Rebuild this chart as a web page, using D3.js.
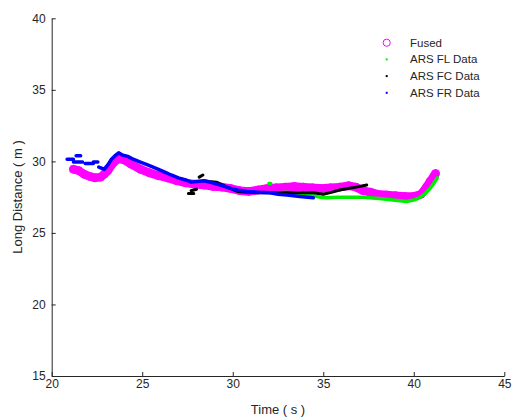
<!DOCTYPE html>
<html>
<head>
  <meta charset="utf-8">
  <script src="https://cdn.jsdelivr.net/npm/d3@7"></script>
  <style>
    body { margin: 0; background: #fff; }
    svg { font-family: "Liberation Sans", Arial, sans-serif; }
    .axis path, .axis line { stroke: #262626; }
    .axis text { fill: #262626; font-size: 12px; }
    .legend text { fill: #262626; font-size: 11.5px; }
  </style>
</head>
<body>
  <svg id="chart" width="514" height="418"></svg>
  <script>
    // Values: [time (s), long distance (m)], null = gap
    const fused = [
      [21.2, 29.45], [21.5, 29.35], [21.8, 29.1], [22.1, 28.95], [22.4, 28.85], [22.7, 28.9],
      [22.9, 29.1], [23.1, 29.35], [23.4, 29.9], [23.7, 30.2], [24.0, 30.1], [24.4, 29.8],
      [24.9, 29.45], [25.4, 29.2], [25.9, 29.0], [26.4, 28.85], [26.9, 28.65], [27.4, 28.5],
      [27.9, 28.4], [28.4, 28.35], [28.9, 28.25], [29.4, 28.2], [29.9, 28.1], [30.4, 27.95],
      [30.9, 27.9], [31.4, 28.0], [31.9, 28.1], [32.4, 28.15], [32.9, 28.2], [33.4, 28.25],
      [33.9, 28.2], [34.4, 28.15], [34.9, 28.1], [35.4, 28.15], [35.9, 28.2], [36.4, 28.3],
      [36.8, 28.2], [37.2, 27.95], [37.6, 27.85], [38.0, 27.7], [38.5, 27.65], [39.0, 27.6],
      [39.5, 27.55], [40.0, 27.55], [40.4, 27.7], [40.7, 28.2], [40.9, 28.6], [41.1, 28.95],
      [41.2, 29.15]
    ];

    const arsFL = [
      [32.0, 28.45], [32.1, 28.45], null,
      [32.8, 27.85], [33.3, 27.8], [33.9, 27.7], [34.45, 27.6], [34.8, 27.5], [35.2, 27.45],
      [35.8, 27.5], [36.3, 27.5], [37.2, 27.5], [38.1, 27.4], [38.85, 27.3], [39.6, 27.2],
      [40.0, 27.3], [40.3, 27.45], [40.6, 27.7], [40.9, 28.1], [41.1, 28.45], [41.3, 28.85]
    ];

    const arsFC = [
      [27.55, 27.75], [27.85, 27.75], null,
      [27.7, 27.95], [28.0, 28.05], null,
      [28.15, 28.9], [28.35, 29.05], null,
      [28.4, 28.65], [28.7, 28.6], [29.1, 28.55], [29.6, 28.25], [30.25, 27.9], [30.8, 27.85],
      [31.35, 27.8], [32.05, 27.8], [32.6, 27.8], [33.2, 27.8], [33.7, 27.8], [34.45, 27.8],
      [35.0, 27.7], [35.5, 27.85], [35.9, 28.0], [36.6, 28.15], [37.4, 28.35]
    ];

    const arsFR = [
      [20.85, 30.15], [21.2, 30.15], null,
      [21.35, 30.4], [21.6, 30.4], null,
      [21.2, 29.95], [21.7, 29.95], null,
      [21.85, 29.85], [22.3, 29.85], null,
      [22.3, 29.95], [22.55, 29.95], null,
      [22.6, 29.6], [22.9, 29.45], [23.1, 29.75], [23.3, 30.15], [23.5, 30.4], [23.7, 30.6],
      [23.9, 30.45], [24.2, 30.35], [24.5, 30.15], [24.9, 29.95], [25.3, 29.75], [25.8, 29.5],
      [26.25, 29.25], [26.6, 29.05], [27.0, 28.85], [27.4, 28.7], [27.7, 28.55], [28.0, 28.6],
      [28.4, 28.65], [28.9, 28.5], [29.3, 28.35], [29.8, 28.15], [30.25, 28.0], [30.8, 27.9],
      [31.35, 27.85], [32.05, 27.8], [32.5, 27.7], [33.0, 27.65], [33.7, 27.55], [34.45, 27.45]
    ];

    const xTicks = [20, 25, 30, 35, 40, 45];
    const yTicks = [15, 20, 25, 30, 35, 40];
    const legendLabels = ["Fused", "ARS FL Data", "ARS FC Data", "ARS FR Data"];

    const svg = d3.select("#chart");

    const x = d3.scaleLinear().domain([20, 45]).range([51.7, 504.3]);
    const y = d3.scaleLinear().domain([15, 40]).range([376, 18.3]);

    const line = d3.line()
      .defined(d => d != null)
      .x(d => x(d[0]))
      .y(d => y(d[1]))
      .curve(d3.curveLinear);

    // Fused: heavy band of overlapping open circles
    svg.append("path").datum(fused)
      .attr("fill", "none")
      .attr("stroke", "#ff00ff")
      .attr("stroke-width", 8.5)
      .attr("stroke-linecap", "round")
      .attr("stroke-linejoin", "round")
      .attr("d", line);
    svg.selectAll("circle.fused").data(fused)
      .join("circle")
      .attr("class", "fused")
      .attr("cx", d => x(d[0]))
      .attr("cy", d => y(d[1]))
      .attr("r", 4)
      .attr("fill", "none")
      .attr("stroke", "#ff00ff")
      .attr("stroke-width", 1);

    // ARS sensors: dense dots drawn as thick traces
    const sensors = [
      { data: arsFL, color: "#00ee00", width: 3.5 },
      { data: arsFC, color: "#000000", width: 3 },
      { data: arsFR, color: "#0000ff", width: 3.5 }
    ];
    sensors.forEach(s => {
      svg.append("path").datum(s.data)
        .attr("fill", "none")
        .attr("stroke", s.color)
        .attr("stroke-width", s.width)
        .attr("stroke-linecap", "round")
        .attr("stroke-linejoin", "round")
        .attr("d", line);
    });

    // Axes (MATLAB style: ticks inward, no box)
    svg.append("g")
      .attr("class", "axis")
      .attr("transform", "translate(0,376)")
      .call(d3.axisBottom(x).tickValues(xTicks).tickSizeInner(-4).tickSizeOuter(0).tickPadding(3))
      .call(g => g.selectAll("text").attr("font-size", 12));

    svg.append("g")
      .attr("class", "axis")
      .attr("transform", "translate(51.7,0)")
      .call(d3.axisLeft(y).tickValues(yTicks).tickSizeInner(-4).tickSizeOuter(0).tickPadding(6))
      .call(g => g.selectAll("text").attr("font-size", 12));

    svg.append("text")
      .attr("x", 278)
      .attr("y", 414)
      .attr("text-anchor", "middle")
      .attr("fill", "#262626")
      .attr("font-size", 13)
      .text("Time ( s )");

    svg.append("text")
      .attr("transform", "translate(22,197) rotate(-90)")
      .attr("text-anchor", "middle")
      .attr("fill", "#262626")
      .attr("font-size", 13)
      .text("Long Distance ( m )");

    // Legend
    const legend = svg.append("g").attr("class", "legend");
    const legendColors = ["#ff00ff", "#00ee00", "#000000", "#0000ff"];
    legendLabels.forEach((label, i) => {
      const ly = 42.7 + i * 16.7;
      if (i === 0) {
        legend.append("circle")
          .attr("cx", 386.7).attr("cy", ly).attr("r", 3.6)
          .attr("fill", "none").attr("stroke", legendColors[i]).attr("stroke-width", 1);
      } else {
        legend.append("rect")
          .attr("x", 385.7).attr("y", ly - 1).attr("width", 2).attr("height", 2)
          .attr("fill", legendColors[i]);
      }
      legend.append("text")
        .attr("x", 410)
        .attr("y", ly)
        .attr("dy", "0.35em")
        .text(label);
    });
  </script>
</body>
</html>
